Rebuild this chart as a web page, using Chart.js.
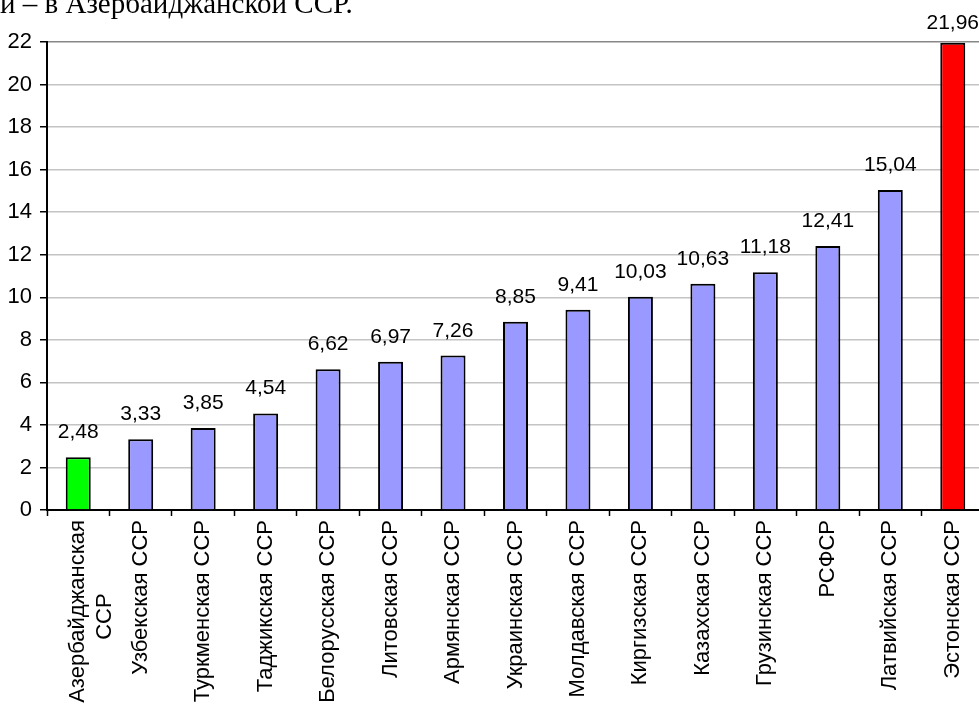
<!DOCTYPE html>
<html>
<head>
<meta charset="utf-8">
<script src="https://cdn.jsdelivr.net/npm/chart.js@4"></script>
<style>
  body { margin: 0; overflow: hidden; background: #fff; width: 979px; height: 709px; }
  #note { position: absolute; left: 0; top: -11px; font: 29px "Liberation Serif", "Times New Roman", serif; line-height: 29px; color: #000; white-space: nowrap; z-index: 2; }
  #wrap { position: absolute; left: 0; top: 0; }
</style>
</head>
<body>
<div id="note">и – в Азербайджанской ССР.</div>
<div id="wrap"><canvas id="bar-chart" width="985" height="709"></canvas></div>
<script>
var republics = [
  ["Азербайджанская", "ССР            "],
  "Узбекская ССР",
  "Туркменская ССР",
  "Таджикская ССР",
  "Белорусская ССР",
  "Литовская ССР",
  "Армянская ССР",
  "Украинская ССР",
  "Молдавская ССР",
  "Киргизская ССР",
  "Казахская ССР",
  "Грузинская ССР",
  "РСФСР",
  "Латвийская ССР",
  "Эстонская ССР",
];
var values = [2.48, 3.33, 3.85, 4.54, 6.62, 6.97, 7.26, 8.85, 9.41, 10.03, 10.63, 11.18, 12.41, 15.04, 21.96];
var y_ticks = [0, 2, 4, 6, 8, 10, 12, 14, 16, 18, 20, 22];

var bar_colors = values.map((v, i) =>
  i == 0 ? "#00ff00" : i == values.length - 1 ? "#ff0000" : "#9999ff"
);

const FONT = "'Liberation Sans', Arial, sans-serif";

// value labels over the bars, excel style "2,48"
var value_labels = {
  id: "valueLabels",
  afterDatasetsDraw(chart) {
    var ctx = chart.ctx;
    var meta = chart.getDatasetMeta(0);
    ctx.save();
    ctx.font = "21px " + FONT;
    ctx.fillStyle = "#000";
    ctx.textAlign = "center";
    ctx.textBaseline = "alphabetic";
    meta.data.forEach((bar, i) => {
      var y = Math.max(bar.y - 19, 29);
      ctx.fillText(values[i].toFixed(2).replace(".", ","), bar.x, y);
    });
    ctx.restore();
  },
};

new Chart(document.getElementById("bar-chart"), {
  type: "bar",
  data: {
    labels: republics,
    datasets: [
      {
        data: values,
        backgroundColor: bar_colors,
        borderColor: "#000",
        borderWidth: 2,
        barPercentage: 0.4,
        categoryPercentage: 1,
      },
    ],
  },
  options: {
    responsive: false,
    animation: false,
    layout: { padding: { top: 42, left: 0, right: 1, bottom: 0 } },
    plugins: {
      legend: { display: false },
      tooltip: { enabled: false },
    },
    scales: {
      x: {
        grid: {
          offset: true,
          drawOnChartArea: false,
          tickColor: "#000",
          tickLength: 6,
          tickWidth: 1.5,
        },
        border: { color: "#000", width: 2 },
        ticks: {
          color: "#000",
          font: { family: FONT, size: 22 },
          minRotation: 90,
          maxRotation: 90,
          autoSkip: false,
          padding: 4,
        },
        afterFit: (scale) => {
          scale.height = 199;
        },
      },
      y: {
        min: 0,
        max: 22,
        afterBuildTicks: (scale) => {
          scale.ticks = y_ticks.map((v) => ({ value: v }));
        },
        grid: {
          color: (c) => (c.tick && c.tick.value == 22 ? "#888" : "#c4c4c4"),
          lineWidth: 1.5,
          tickColor: "#000",
          tickLength: 7,
        },
        border: { color: "#000", width: 2 },
        ticks: {
          color: "#000",
          font: { family: FONT, size: 22 },
          padding: 8,
        },
        afterFit: (scale) => {
          scale.width = 47;
        },
      },
    },
  },
  plugins: [value_labels],
});
</script>
</body>
</html>
